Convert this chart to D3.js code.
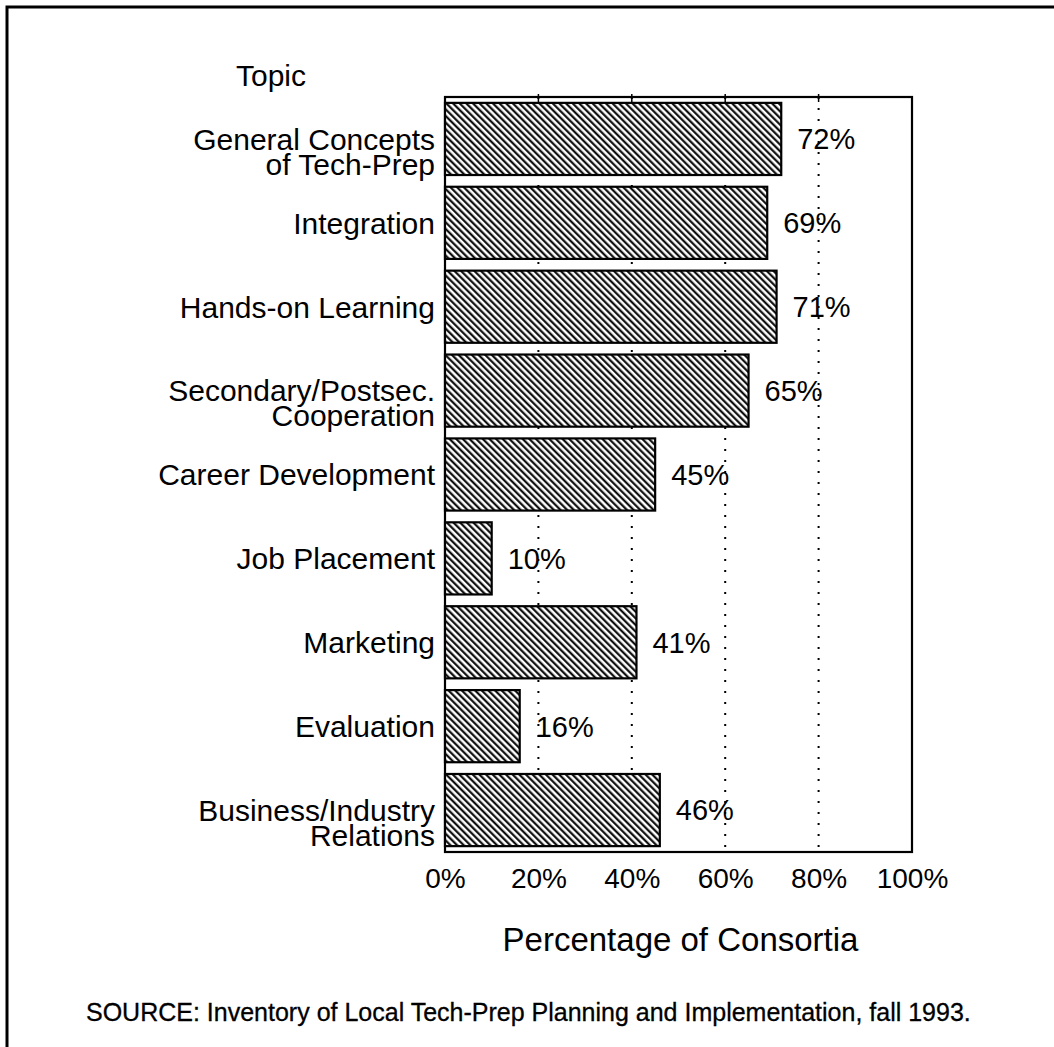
<!DOCTYPE html>
<html>
<head>
<meta charset="utf-8">
<script src="https://cdn.jsdelivr.net/npm/d3@7"></script>
<style>
  body { margin: 0; background: #fff; }
  text { font-family: "Liberation Sans", Arial, Helvetica, sans-serif; fill: #000; }
</style>
</head>
<body>
<svg id="chart"></svg>
<script>
var topics = [
    ["General Concepts", "of Tech-Prep"],
    ["Integration"],
    ["Hands-on Learning"],
    ["Secondary/Postsec.", "Cooperation"],
    ["Career Development"],
    ["Job Placement"],
    ["Marketing"],
    ["Evaluation"],
    ["Business/Industry", "Relations"]
];
var percents = [72, 69, 71, 65, 45, 10, 41, 16, 46];
var tickValues = [0, 20, 40, 60, 80, 100];
var gridValues = [20, 40, 60, 80];

var W = 1054, H = 1047;
var margin = {top: 97, left: 445},
    width = 467,
    height = 755;

var svg = d3.select("#chart")
    .attr("width", W)
    .attr("height", H);

// hatch pattern for the bars
var defs = svg.append("defs");
defs.append("pattern")
    .attr("id", "hatch")
    .attr("patternUnits", "userSpaceOnUse")
    .attr("width", 4.7)
    .attr("height", 10)
    .attr("patternTransform", "rotate(-45)")
  .call(function(p) {
      p.append("rect").attr("width", 4.7).attr("height", 10).attr("fill", "#fff");
      p.append("line")
          .attr("x1", 1.2).attr("x2", 1.2)
          .attr("y1", 0).attr("y2", 10)
          .attr("stroke", "#000")
          .attr("stroke-width", 2.1);
  });

// page frame (top and left only)
svg.append("path")
    .attr("d", "M7," + H + "V7H" + W)
    .attr("fill", "none")
    .attr("stroke", "#000")
    .attr("stroke-width", 3);

var x = d3.scaleLinear().domain([0, 100]).range([0, width]);
var y = d3.scaleBand()
    .domain(d3.range(topics.length))
    .range([0, height])
    .paddingInner(0.14)
    .paddingOuter(0.07);

var g = svg.append("g")
    .attr("transform", "translate(" + margin.left + "," + margin.top + ")");

// dotted grid lines
g.selectAll(".grid")
    .data(gridValues)
    .enter().append("line")
    .attr("class", "grid")
    .attr("x1", function(d) { return x(d); })
    .attr("x2", function(d) { return x(d); })
    .attr("y1", 0)
    .attr("y2", height)
    .attr("stroke", "#000")
    .attr("stroke-width", 2)
    .attr("stroke-dasharray", "2,9");

// small ticks along the top edge
g.selectAll(".tick-top")
    .data(gridValues)
    .enter().append("line")
    .attr("x1", function(d) { return x(d); })
    .attr("x2", function(d) { return x(d); })
    .attr("y1", -3)
    .attr("y2", 5)
    .attr("stroke", "#000")
    .attr("stroke-width", 1.5);

// plot frame
g.append("rect")
    .attr("width", width)
    .attr("height", height)
    .attr("fill", "none")
    .attr("stroke", "#000")
    .attr("stroke-width", 2.2);

// bars
g.selectAll(".bar")
    .data(percents)
    .enter().append("rect")
    .attr("class", "bar")
    .attr("x", 0)
    .attr("y", function(d, i) { return y(i); })
    .attr("width", function(d) { return x(d); })
    .attr("height", y.bandwidth())
    .attr("fill", "url(#hatch)")
    .attr("stroke", "#000")
    .attr("stroke-width", 2.2);

// value labels
g.selectAll(".value")
    .data(percents)
    .enter().append("text")
    .attr("class", "value")
    .attr("x", function(d) { return x(d) + 16; })
    .attr("y", function(d, i) { return y(i) + y.bandwidth() / 2; })
    .attr("dy", "0.36em")
    .style("font-size", "29px")
    .text(function(d) { return d + "%"; });

// category labels
var cat = g.selectAll(".cat")
    .data(topics)
    .enter().append("text")
    .attr("class", "cat")
    .attr("text-anchor", "end")
    .style("font-size", "30px")
    .attr("transform", function(d, i) {
        return "translate(-10," + (y(i) + y.bandwidth() / 2) + ")";
    });
cat.selectAll("tspan")
    .data(function(d) { return d; })
    .enter().append("tspan")
    .attr("x", 0)
    .attr("y", function(d, j) { return j * 25; })
    .attr("dy", "0.36em")
    .text(function(d) { return d; });

// x axis tick labels
var xAxis = d3.axisBottom(x)
    .tickValues(tickValues)
    .tickSize(0)
    .tickPadding(16)
    .tickFormat(function(d) { return d + "%"; });

var ax = g.append("g")
    .attr("transform", "translate(0," + height + ")")
    .call(xAxis);
ax.select(".domain").remove();
ax.selectAll("text")
    .style("font-size", "28px")
    .style("font-family", "'Liberation Sans', Arial, sans-serif");

// titles
svg.append("text")
    .attr("x", 271)
    .attr("y", 86)
    .attr("text-anchor", "middle")
    .style("font-size", "30px")
    .text("Topic");

svg.append("text")
    .attr("x", margin.left + width / 2 + 2)
    .attr("y", 951)
    .attr("text-anchor", "middle")
    .style("font-size", "33px")
    .text("Percentage of Consortia");

svg.append("text")
    .attr("x", 86)
    .attr("y", 1021)
    .style("font-size", "25px")
    .style("stroke", "#000")
    .style("stroke-width", 0.3)
    .text("SOURCE:  Inventory of Local Tech-Prep Planning and Implementation, fall 1993.");
</script>
</body>
</html>
